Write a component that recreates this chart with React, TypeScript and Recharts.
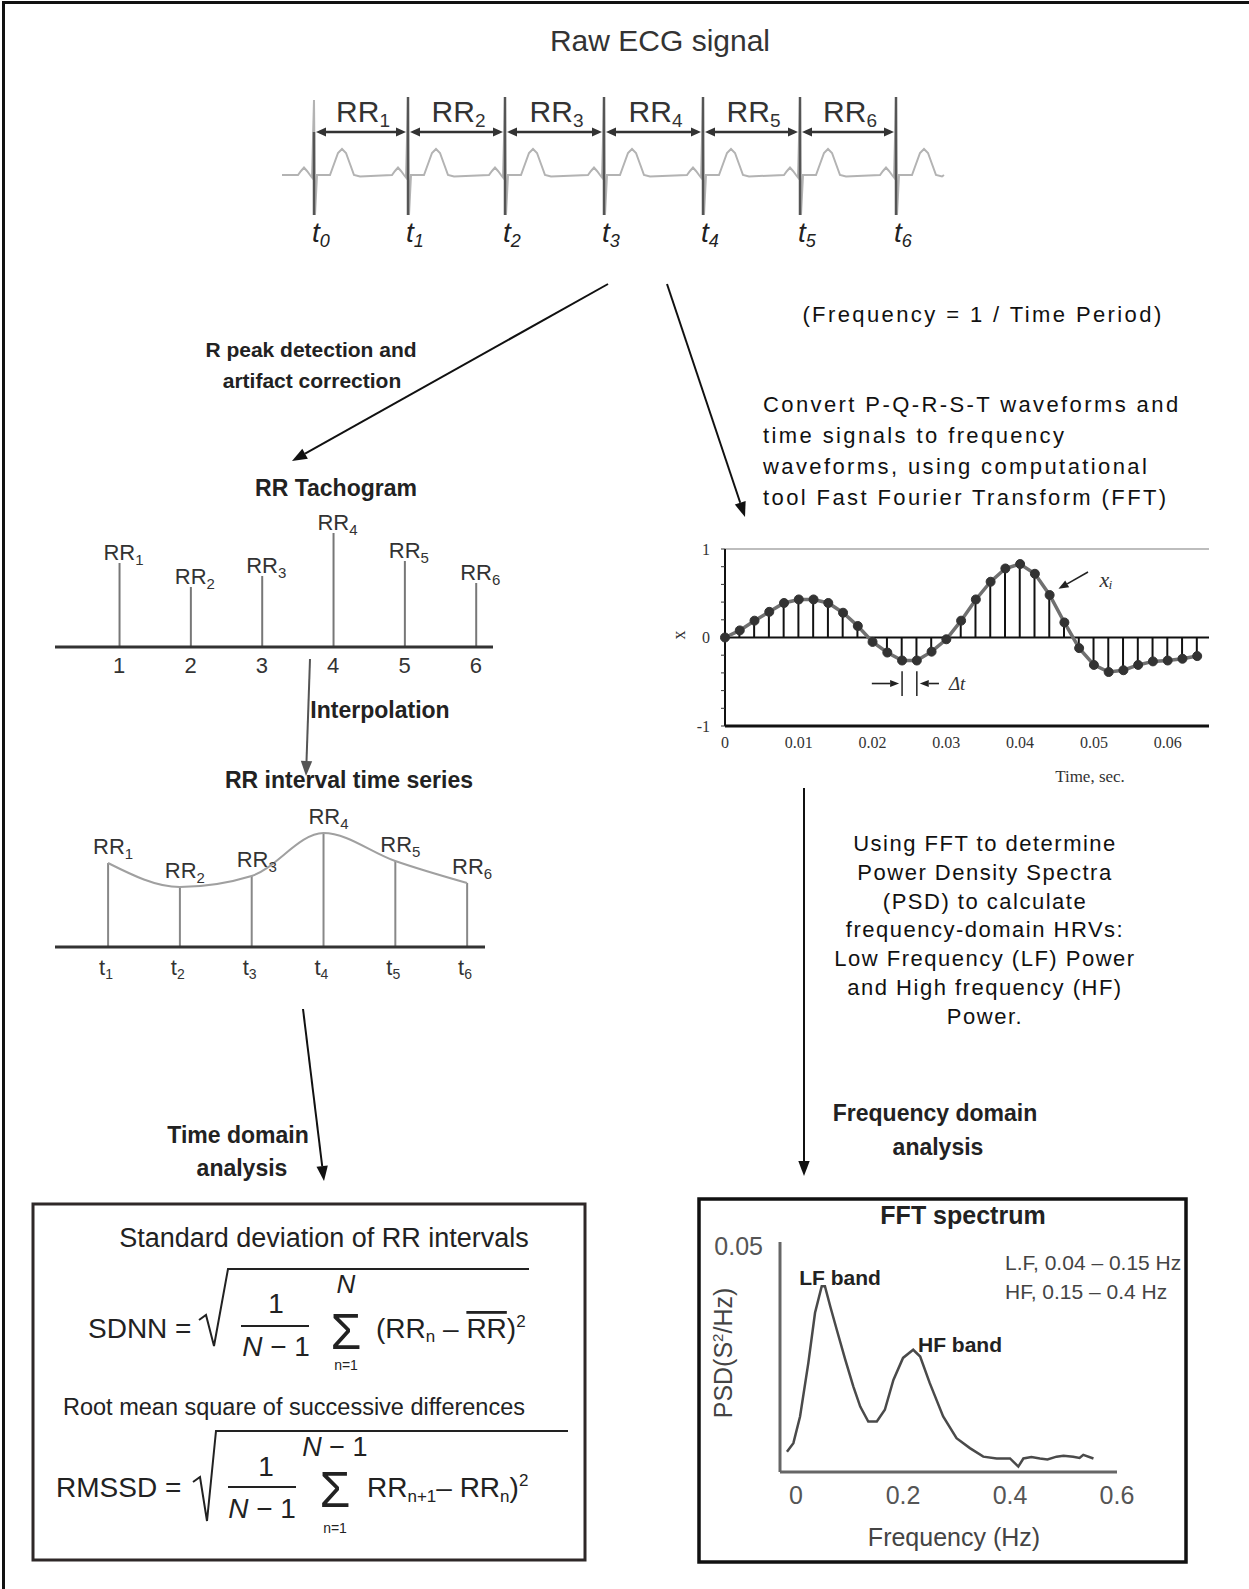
import React from 'react';
import { ComposedChart, LineChart, Line, Bar, XAxis, YAxis, ReferenceLine, LabelList } from 'recharts';

const SANS = '"Liberation Sans", Arial, Helvetica, sans-serif';
const SERIF = '"Liberation Serif", "Times New Roman", serif';

// raw ECG: R peak times (s) and one beat (offset from the R peak, amplitude)
const ecgPeakTimes = [0, 0.94, 1.91, 2.9, 3.89, 4.86, 5.82];
const ecgPeakNames = ['0', '1', '2', '3', '4', '5', '6'];
const beatOffsets = [-0.16, -0.13, -0.1, -0.07, -0.04, -0.02, 0, 0.01, 0.03, 0.16, 0.2, 0.24, 0.28, 0.32, 0.36, 0.4, 0.46];
const beatShape = [0, 0.08, 0.15, 0.08, 0, -0.05, 1.5, -0.8, 0, 0, 0.22, 0.44, 0.52, 0.44, 0.22, 0, -0.03];
const ecgStart = -0.32;
const ecgEnd = 6.3;

// RR intervals (tachogram + interpolated series)
const rrIndex = [1, 2, 3, 4, 5, 6];
const rrNames = ['1', '2', '3', '4', '5', '6'];
const rrValues = [840, 600, 710, 1140, 860, 640];

// sampled signal x(t)
const sampleTimes = [0, 0.002, 0.004, 0.006, 0.008, 0.01, 0.012, 0.014, 0.016, 0.018, 0.02, 0.022, 0.024, 0.026, 0.028, 0.03, 0.032, 0.034, 0.036, 0.038, 0.04, 0.042, 0.044, 0.046, 0.048, 0.05, 0.052, 0.054, 0.056, 0.058, 0.06, 0.062, 0.064];
const sampleValues = [0, 0.08, 0.19, 0.29, 0.39, 0.43, 0.43, 0.39, 0.28, 0.13, -0.05, -0.17, -0.26, -0.26, -0.16, -0.02, 0.19, 0.43, 0.63, 0.78, 0.83, 0.72, 0.48, 0.17, -0.12, -0.31, -0.39, -0.37, -0.31, -0.27, -0.26, -0.24, -0.21];
const sampleTicks = [0, 0.01, 0.02, 0.03, 0.04, 0.05, 0.06];

// FFT spectrum
const psdFreq = [-0.017, -0.005, 0.0075, 0.023, 0.0355, 0.048, 0.054, 0.064, 0.076, 0.092, 0.107, 0.12, 0.135, 0.151, 0.166, 0.182, 0.2, 0.219, 0.232, 0.25, 0.275, 0.3, 0.325, 0.35, 0.375, 0.4, 0.4155, 0.425, 0.44, 0.456, 0.47, 0.487, 0.5, 0.518, 0.53, 0.537, 0.556];
const psdValue = [0.0045, 0.0064, 0.0123, 0.0242, 0.0353, 0.0412, 0.0412, 0.0367, 0.0316, 0.0249, 0.019, 0.0145, 0.0112, 0.0112, 0.0138, 0.0204, 0.0253, 0.0271, 0.0256, 0.0197, 0.0123, 0.0075, 0.0053, 0.0034, 0.003, 0.003, 0.0012, 0.003, 0.0033, 0.003, 0.0028, 0.0034, 0.0036, 0.0034, 0.0031, 0.0038, 0.003];
const psdTicks = [0, 0.2, 0.4, 0.6];

// build tables
const ecgData: { t: number; v: number }[] = [{ t: ecgStart, v: 0 }];
ecgPeakTimes.forEach((p) => beatOffsets.forEach((o, i) => ecgData.push({ t: +(p + o).toFixed(3), v: beatShape[i] })));
ecgData.push({ t: ecgEnd, v: 0 });

const rrData = rrIndex.map((x, i) => ({ x, rr: rrValues[i], name: rrNames[i] }));
const sampleData = sampleTimes.map((t, i) => ({ t, x: sampleValues[i] }));
const psdData = psdFreq.map((f, i) => ({ f, psd: psdValue[i] }));

const peakMarker = (name: string) => (p: any) => (
  <g>
    <line x1={p.x1} y1={p.y1} x2={p.x2} y2={p.y2} stroke="#555" strokeWidth={2.5} />
    <text x={p.x1 - 2} y={Math.max(p.y1, p.y2) + 27} fontFamily={SANS} fontStyle="italic" fontSize={28} fill="#222">
      t<tspan fontSize={18} dy={5}>{name}</tspan>
    </text>
  </g>
);

const rrArrow = (name: string) => (p: any) => {
  const y = p.y1;
  const a = p.x1 + 2;
  const b = p.x2 - 2;
  return (
    <g>
      <line x1={a + 8} y1={y} x2={b - 8} y2={y} stroke="#333" strokeWidth={2.5} />
      <polygon points={`${a},${y} ${a + 10},${y - 4.5} ${a + 10},${y + 4.5}`} fill="#333" />
      <polygon points={`${b},${y} ${b - 10},${y - 4.5} ${b - 10},${y + 4.5}`} fill="#333" />
      <text x={(a + b) / 2 + 2} y={y - 10} textAnchor="middle" fontFamily={SANS} fontSize={30} fill="#333">
        RR<tspan fontSize={19} dy={5}>{name}</tspan>
      </text>
    </g>
  );
};

const arrowShape = (color: string, head: number) => (p: any) => {
  const ang = Math.atan2(p.y2 - p.y1, p.x2 - p.x1);
  const hx = p.x2 - head * Math.cos(ang);
  const hy = p.y2 - head * Math.sin(ang);
  const px = -Math.sin(ang) * head * 0.4;
  const py = Math.cos(ang) * head * 0.4;
  return (
    <g>
      <line x1={p.x1} y1={p.y1} x2={hx} y2={hy} stroke={color} strokeWidth={1.6} />
      <polygon points={`${p.x2},${p.y2} ${hx + px},${hy + py} ${hx - px},${hy - py}`} fill={color} />
    </g>
  );
};

const rrLabel = (dx: number, dy: number) => (p: any) => (
  <text x={p.x + p.width / 2 + dx} y={p.y - dy} textAnchor="middle" fontFamily={SANS} fontSize={22} fill="#333">
    RR<tspan fontSize={15} dy={5}>{rrNames[p.index]}</tspan>
  </text>
);

const Arrow = ({ x1, y1, x2, y2, color = '#111', w = 2, head = 15 }: any) => {
  const a = Math.atan2(y2 - y1, x2 - x1);
  const hx = x2 - head * Math.cos(a);
  const hy = y2 - head * Math.sin(a);
  const px = -Math.sin(a) * head * 0.38;
  const py = Math.cos(a) * head * 0.38;
  return (
    <g>
      <line x1={x1} y1={y1} x2={hx} y2={hy} stroke={color} strokeWidth={w} />
      <polygon points={`${x2},${y2} ${hx + px},${hy + py} ${hx - px},${hy - py}`} fill={color} />
    </g>
  );
};

const Overlay = () => (
  <svg width={1249} height={1589} style={{ position: 'absolute', left: 0, top: 0, pointerEvents: 'none' }}>
    <line x1={3.5} y1={1} x2={3.5} y2={1589} stroke="#111" strokeWidth={3} />
    <line x1={2} y1={2.5} x2={1249} y2={2.5} stroke="#111" strokeWidth={3} />

    <text x={660} y={51} textAnchor="middle" fontFamily={SANS} fontSize={30} fill="#333">Raw ECG signal</text>

    <Arrow x1={608} y1={284} x2={292} y2={461} />
    <Arrow x1={667} y1={284} x2={745} y2={517} />
    <Arrow x1={310} y1={659} x2={306} y2={776} color="#555" />
    <Arrow x1={303} y1={1009} x2={324} y2={1181} />
    <Arrow x1={804} y1={788} x2={804} y2={1176} />

    <g fontFamily={SANS} fontWeight="bold" fill="#222" textAnchor="middle">
      <text x={311} y={357} fontSize={21}>R peak detection and</text>
      <text x={312} y={388} fontSize={21}>artifact correction</text>
      <text x={336} y={496} fontSize={23}>RR Tachogram</text>
      <text x={380} y={718} fontSize={23}>Interpolation</text>
      <text x={349} y={788} fontSize={23}>RR interval time series</text>
      <text x={238} y={1143} fontSize={23}>Time domain</text>
      <text x={242} y={1176} fontSize={23}>analysis</text>
      <text x={935} y={1121} fontSize={23}>Frequency domain</text>
      <text x={938} y={1155} fontSize={23}>analysis</text>
    </g>

    <g fontFamily={SANS} fontSize={22} fill="#111" letterSpacing={2.4}>
      <text x={983} y={322} textAnchor="middle">(Frequency = 1 / Time Period)</text>
      <text x={763} y={412}>Convert  P-Q-R-S-T waveforms and</text>
      <text x={763} y={443}>time signals to frequency</text>
      <text x={763} y={474}>waveforms, using computational</text>
      <text x={763} y={505}>tool Fast Fourier Transform (FFT)</text>
    </g>

    <g fontFamily={SANS} fontSize={22} fill="#111" letterSpacing={1.5} textAnchor="middle">
      {['Using FFT to determine', 'Power Density Spectra', '(PSD) to calculate', 'frequency-domain HRVs:', 'Low Frequency (LF) Power', 'and High frequency (HF)', 'Power.'].map((s, i) => (
        <text key={i} x={985} y={851 + i * 28.8}>{s}</text>
      ))}
    </g>

    {/* sampled signal labels */}
    <text x={679} y={641} fontFamily={SERIF} fontSize={18} fill="#333" transform="rotate(-90 679 635)" textAnchor="middle">x</text>
    <text x={1090} y={782} fontFamily={SERIF} fontSize={17} fill="#333" textAnchor="middle">Time, sec.</text>

    {/* formula box */}
    <rect x={33} y={1204} width={552} height={356} fill="none" stroke="#2e2828" strokeWidth={3} />
    <g fontFamily={SANS} fill="#222">
      <text x={324} y={1247} fontSize={27} textAnchor="middle">Standard deviation of RR intervals</text>
      <text x={88} y={1338} fontSize={28}>SDNN  =</text>
      <path d="M 199 1320 L 206 1315 L 214 1346 L 228 1269 L 529 1269" fill="none" stroke="#222" strokeWidth={2} />
      <text x={276} y={1313} fontSize={28} textAnchor="middle">1</text>
      <line x1={241} y1={1326} x2={309} y2={1326} stroke="#222" strokeWidth={2} />
      <text x={276} y={1356} fontSize={28} textAnchor="middle"><tspan fontStyle="italic">N</tspan> − 1</text>
      <text x={346} y={1293} fontSize={26} textAnchor="middle" fontStyle="italic">N</text>
      <text x={346} y={1349} fontSize={50} textAnchor="middle">Σ</text>
      <text x={346} y={1370} fontSize={14} textAnchor="middle">n=1</text>
      <text x={376} y={1338} fontSize={28}>
        (RR<tspan fontSize={17} dy={4}>n</tspan><tspan dy={-4}> – </tspan>
        <tspan style={{ textDecoration: 'overline' }}>RR</tspan>)<tspan fontSize={17} dy={-11}>2</tspan>
      </text>

      <text x={294} y={1415} fontSize={23.5} textAnchor="middle">Root mean square of successive differences</text>
      <text x={56} y={1497} fontSize={28}>RMSSD =</text>
      <path d="M 193 1482 L 200 1477 L 207 1521 L 216 1431 L 568 1431" fill="none" stroke="#222" strokeWidth={2} />
      <text x={266} y={1476} fontSize={28} textAnchor="middle">1</text>
      <line x1={228} y1={1487} x2={296} y2={1487} stroke="#222" strokeWidth={2} />
      <text x={262} y={1518} fontSize={28} textAnchor="middle"><tspan fontStyle="italic">N</tspan> − 1</text>
      <text x={335} y={1456} fontSize={27} textAnchor="middle"><tspan fontStyle="italic">N</tspan> − 1</text>
      <text x={335} y={1507} fontSize={50} textAnchor="middle">Σ</text>
      <text x={335} y={1533} fontSize={14} textAnchor="middle">n=1</text>
      <text x={367} y={1497} fontSize={28}>
        RR<tspan fontSize={17} dy={5}>n+1</tspan><tspan dy={-5}>– RR</tspan><tspan fontSize={17} dy={5}>n</tspan><tspan dy={-5}>)</tspan><tspan fontSize={17} dy={-11}>2</tspan>
      </text>
    </g>

    {/* FFT box */}
    <rect x={699} y={1199} width={487} height={363} fill="none" stroke="#111" strokeWidth={3.5} />
    <g fontFamily={SANS}>
      <text x={963} y={1224} fontSize={25} fontWeight="bold" textAnchor="middle" fill="#222">FFT spectrum</text>
      <text x={840} y={1285} fontSize={21} fontWeight="bold" textAnchor="middle" fill="#222">LF band</text>
      <text x={960} y={1352} fontSize={21} fontWeight="bold" textAnchor="middle" fill="#222">HF band</text>
      <text x={1005} y={1270} fontSize={21} fill="#444">L.F, 0.04 – 0.15 Hz</text>
      <text x={1005} y={1299} fontSize={21} fill="#444">HF, 0.15 – 0.4 Hz</text>
      <text x={723} y={1353} fontSize={25} fill="#444" textAnchor="middle" transform="rotate(-90 723 1353)" dy={9}>
        PSD(S<tspan fontSize={15} dy={-9}>2</tspan><tspan dy={9}>/Hz)</tspan>
      </text>
      <text x={954} y={1546} fontSize={25} fill="#444" textAnchor="middle">Frequency (Hz)</text>
    </g>
  </svg>
);

export default function App() {
  return (
    <div style={{ position: 'absolute', left: 0, top: 0, width: 1249, height: 1589, background: '#fff', fontFamily: SANS }}>
      {/* raw ECG */}
      <div style={{ position: 'absolute', left: 264, top: 80 }}>
        <LineChart width={700} height={180} data={ecgData} margin={{ top: 0, right: 0, bottom: 0, left: 0 }}>
          <XAxis dataKey="t" type="number" domain={[-0.5, 6.5]} hide />
          <YAxis type="number" domain={[-1.7, 1.9]} hide />
          <Line dataKey="v" type="linear" stroke="#b3b3b3" strokeWidth={2} dot={false} isAnimationActive={false} />
          {ecgPeakTimes.map((p, i) => (
            <ReferenceLine key={'m' + i} ifOverflow="visible" segment={[{ x: p, y: i === 0 ? 0.86 : 1.56 }, { x: p, y: -0.8 }]} shape={peakMarker(ecgPeakNames[i])} />
          ))}
          {ecgPeakTimes.slice(1).map((p, i) => (
            <ReferenceLine key={'a' + i} ifOverflow="visible" segment={[{ x: ecgPeakTimes[i], y: 0.86 }, { x: p, y: 0.86 }]} shape={rrArrow(rrNames[i])} />
          ))}
        </LineChart>
      </div>

      {/* RR tachogram */}
      <div style={{ position: 'absolute', left: 40, top: 500 }}>
        <ComposedChart width={470} height={177} data={rrData} margin={{ top: 0, right: 17, bottom: 0, left: 15 }}>
          <XAxis dataKey="x" type="number" domain={[0.1, 6.24]} ticks={rrIndex} height={30} tickSize={0} tickMargin={0}
            axisLine={{ stroke: '#333', strokeWidth: 3 }} tickLine={false}
            tick={(p: any) => (
              <text x={p.x} y={p.y + 26} textAnchor="middle" fontFamily={SANS} fontSize={22} fill="#333">{p.payload.value}</text>
            )} />
          <YAxis type="number" domain={[0, 1470]} hide />
          <Bar dataKey="rr" barSize={2} fill="#777" isAnimationActive={false}>
            <LabelList dataKey="rr" content={rrLabel(4, 3)} />
          </Bar>
        </ComposedChart>
      </div>

      {/* RR interval time series */}
      <div style={{ position: 'absolute', left: 40, top: 790 }}>
        <ComposedChart width={470} height={197} data={rrData} margin={{ top: 10, right: 25, bottom: 0, left: 15 }}>
          <XAxis dataKey="x" type="number" domain={[0.262, 6.25]} ticks={rrIndex} height={40} tickSize={0} tickMargin={0}
            axisLine={{ stroke: '#333', strokeWidth: 3 }} tickLine={false}
            tick={(p: any) => (
              <text x={p.x - 2} y={p.y + 28} textAnchor="middle" fontFamily={SANS} fontSize={22} fill="#333">
                t<tspan fontSize={14} dy={4}>{p.payload.value}</tspan>
              </text>
            )} />
          <YAxis type="number" domain={[0, 1470]} hide />
          <Bar dataKey="rr" barSize={2} fill="#888" isAnimationActive={false}>
            <LabelList dataKey="rr" content={rrLabel(5, 9)} />
          </Bar>
          <Line dataKey="rr" type="monotone" stroke="#a0a0a0" strokeWidth={2} dot={false} isAnimationActive={false} />
        </ComposedChart>
      </div>

      {/* sampled signal */}
      <div style={{ position: 'absolute', left: 660, top: 530 }}>
        <ComposedChart width={560} height={250} data={sampleData} margin={{ top: 19, right: 11, bottom: 0, left: 25 }}>
          <XAxis dataKey="t" type="number" domain={[0, 0.0656]} ticks={sampleTicks} height={54} tickLine={false} tickMargin={5}
            tickFormatter={(v: number) => (v === 0 ? '0' : v.toFixed(2))}
            axisLine={{ stroke: '#111', strokeWidth: 3 }}
            tick={{ fontFamily: SERIF, fontSize: 16, fill: '#333' }} />
          <YAxis type="number" domain={[-1, 1]} ticks={[-1, -0.8, -0.6, -0.4, -0.2, 0, 0.2, 0.4, 0.6, 0.8, 1]} width={40}
            tickSize={4} tickMargin={11} tickFormatter={(v: number) => (v === 1 ? '1' : v === 0 ? '0' : v === -1 ? '-1' : '')}
            axisLine={{ stroke: '#111', strokeWidth: 2 }} tickLine={{ stroke: '#333' }}
            tick={{ fontFamily: SERIF, fontSize: 16, fill: '#333' }} />
          <ReferenceLine y={1} stroke="#bdbdbd" strokeWidth={2} />
          <ReferenceLine y={0} stroke="#111" strokeWidth={2} />
          <Bar dataKey="x" barSize={2} fill="#111" isAnimationActive={false} />
          <Line dataKey="x" type="linear" stroke="#707070" strokeWidth={3.5} dot={{ r: 4.5, fill: '#333', stroke: '#333', strokeWidth: 1 }} isAnimationActive={false} />
          <ReferenceLine ifOverflow="visible" segment={[{ x: 0.0492, y: 0.74 }, { x: 0.0452, y: 0.55 }]} shape={arrowShape('#222', 10)} />
          <ReferenceLine ifOverflow="visible" segment={[{ x: 0.024, y: -0.38 }, { x: 0.024, y: -0.66 }]} stroke="#222" strokeWidth={1.5} />
          <ReferenceLine ifOverflow="visible" segment={[{ x: 0.026, y: -0.38 }, { x: 0.026, y: -0.66 }]} stroke="#222" strokeWidth={1.5} />
          <ReferenceLine ifOverflow="visible" segment={[{ x: 0.0199, y: -0.52 }, { x: 0.0236, y: -0.52 }]} shape={arrowShape('#222', 9)} />
          <ReferenceLine ifOverflow="visible" segment={[{ x: 0.029, y: -0.52 }, { x: 0.0264, y: -0.52 }]} shape={arrowShape('#222', 9)}
            label={{ value: 'Δt', position: 'right', offset: 10, fontFamily: SERIF, fontStyle: 'italic', fontSize: 19, fill: '#333' }} />
          <ReferenceLine ifOverflow="visible" segment={[{ x: 0.0505, y: 0.66 }, { x: 0.0505, y: 0.66 }]} stroke="none"
            label={{ value: 'xᵢ', position: 'right', offset: 2, fontFamily: SERIF, fontStyle: 'italic', fontSize: 22, fill: '#333' }} />
        </ComposedChart>
      </div>

      {/* FFT spectrum */}
      <div style={{ position: 'absolute', left: 697, top: 1225 }}>
        <LineChart width={490} height={290} data={psdData} margin={{ top: 17, right: 70, bottom: 0, left: 0 }}>
          <XAxis dataKey="f" type="number" domain={[-0.03, 0.6]} ticks={psdTicks} height={43} tickSize={0} tickMargin={14}
            tickFormatter={(v: number) => String(v)} tickLine={false}
            axisLine={{ stroke: '#666', strokeWidth: 3 }}
            tick={{ fontFamily: SANS, fontSize: 25, fill: '#555' }} />
          <YAxis type="number" domain={[0, 0.051]} ticks={[0.05]} width={83} tickSize={0} tickMargin={17} tickLine={false}
            tickFormatter={(v: number) => String(v)}
            axisLine={{ stroke: '#666', strokeWidth: 3 }}
            tick={{ fontFamily: SANS, fontSize: 25, fill: '#555' }} />
          <Line dataKey="psd" type="linear" stroke="#4a4a4a" strokeWidth={2.5} dot={false} isAnimationActive={false} />
        </LineChart>
      </div>

      <Overlay />
    </div>
  );
}
